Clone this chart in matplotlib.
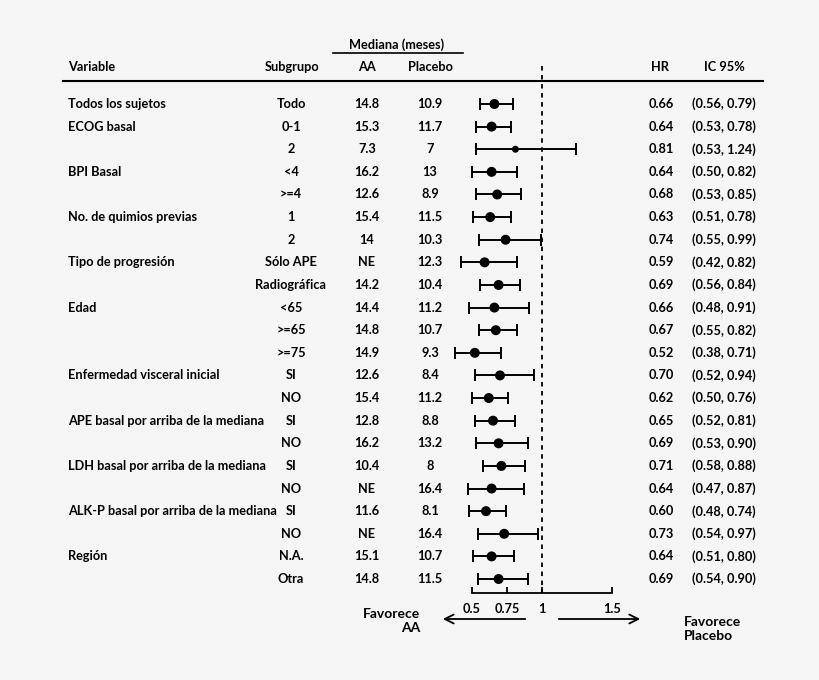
import numpy as np
import matplotlib.pyplot as plt
from matplotlib.lines import Line2D
from matplotlib.transforms import blended_transform_factory

variables = ["Todos los sujetos", "ECOG basal", "", "BPI Basal", "",
             "No. de quimios previas", "", "Tipo de progresión", "",
             "Edad", "", "", "Enfermedad visceral inicial", "",
             "APE basal por arriba de la mediana", "",
             "LDH basal por arriba de la mediana", "",
             "ALK-P basal por arriba de la mediana", "", "Región", ""]
subgroups = ["Todo", "0-1", "2", "<4", ">=4", "1", "2", "Sólo APE",
             "Radiográfica", "<65", ">=65", ">=75", "SI", "NO", "SI", "NO",
             "SI", "NO", "SI", "NO", "N.A.", "Otra"]
median_aa = ["14.8", "15.3", "7.3", "16.2", "12.6", "15.4", "14", "NE",
             "14.2", "14.4", "14.8", "14.9", "12.6", "15.4", "12.8", "16.2",
             "10.4", "NE", "11.6", "NE", "15.1", "14.8"]
median_placebo = ["10.9", "11.7", "7", "13", "8.9", "11.5", "10.3", "12.3",
                  "10.4", "11.2", "10.7", "9.3", "8.4", "11.2", "8.8", "13.2",
                  "8", "16.4", "8.1", "16.4", "10.7", "11.5"]
hr = np.array([0.66, 0.64, 0.81, 0.64, 0.68, 0.63, 0.74, 0.59, 0.69, 0.66, 0.67,
               0.52, 0.70, 0.62, 0.65, 0.69, 0.71, 0.64, 0.60, 0.73, 0.64, 0.69])
ci_low = np.array([0.56, 0.53, 0.53, 0.50, 0.53, 0.51, 0.55, 0.42, 0.56, 0.48, 0.55,
                   0.38, 0.52, 0.50, 0.52, 0.53, 0.58, 0.47, 0.48, 0.54, 0.51, 0.54])
ci_high = np.array([0.79, 0.78, 1.24, 0.82, 0.85, 0.78, 0.99, 0.82, 0.84, 0.91, 0.82,
                    0.71, 0.94, 0.76, 0.81, 0.90, 0.88, 0.87, 0.74, 0.97, 0.80, 0.90])
axis_ticks = [0.5, 0.75, 1, 1.5]

W, H = 820, 680
plt.rcParams['font.family'] = ['Lato', 'DejaVu Sans']
plt.rcParams['font.weight'] = 'bold'
plt.rcParams['font.size'] = 9.2
bg = '#f5f5f5'

fig = plt.figure(figsize=(8.2, 6.8), dpi=100, facecolor=bg)


def fx(px):
    return px / W


def fy(py):
    return 1 - py / H


# pixel layout of the forest panel
row0, step = 104, 22.62
ax = fig.add_axes([fx(430), fy(640), (660 - 430) / W, (640 - 60) / H])
ax.set_facecolor('none')
ax.set_xlim(0.5 - 42 / 140, 1.5 + 48 / 140)
ax.set_ylim((640 - row0) / step, (60 - row0) / step)

rows = np.arange(len(hr))
ax.errorbar(hr, rows, xerr=[hr - ci_low, ci_high - hr], fmt='none',
            ecolor='black', elinewidth=1.4, capsize=4.5, capthick=1.4)
sizes = np.full(len(hr), 38.0)
sizes[2] = 16
ax.scatter(hr, rows, s=sizes, color='black', zorder=3)

axis_y = (593 - row0) / step
ax.vlines(1, (66 - row0) / step, axis_y, colors='black', lw=1.3,
          linestyles=(0, (2.5, 2.5)))

for s in ['top', 'left', 'right']:
    ax.spines[s].set_visible(False)
ax.spines['bottom'].set_position(('data', axis_y))
ax.spines['bottom'].set_bounds(0.5, 1.5)
ax.spines['bottom'].set_linewidth(1.3)
ax.set_xticks(axis_ticks)
ax.set_xticklabels(['0.5', '0.75', '1', '1.5'])
ax.tick_params(axis='x', direction='in', length=4.5, width=1.3, pad=7)
ax.tick_params(axis='y', left=False, labelleft=False)

arrow_y = (619 - row0) / step
ax.annotate('', xy=(0.5 - 32 / 140, arrow_y), xytext=(0.5 + 56 / 140, arrow_y),
            arrowprops=dict(arrowstyle='->', lw=1.3, mutation_scale=16))
ax.annotate('', xy=(1.5 + 31 / 140, arrow_y), xytext=(1 + 14 / 140, arrow_y),
            arrowprops=dict(arrowstyle='->', lw=1.3, mutation_scale=16))

# table columns
tr = blended_transform_factory(fig.transFigure, ax.transData)
for i in rows:
    ax.text(fx(68), i, variables[i], transform=tr, ha='left', va='center')
    ax.text(fx(291), i, subgroups[i], transform=tr, ha='center', va='center')
    ax.text(fx(367), i, median_aa[i], transform=tr, ha='center', va='center')
    ax.text(fx(430), i, median_placebo[i], transform=tr, ha='center', va='center')
    ax.text(fx(661), i, f"{hr[i]:.2f}", transform=tr, ha='center', va='center')
    ax.text(fx(724), i, f"({ci_low[i]:.2f}, {ci_high[i]:.2f})", transform=tr,
            ha='center', va='center')

# headers
fig.text(fx(397), fy(45), "Mediana (meses)", ha='center', va='center')
fig.add_artist(Line2D([fx(333), fx(463)], [fy(53), fy(53)], lw=1.2, color='black'))
for x, label, ha in [(68, "Variable", 'left'), (292, "Subgrupo", 'center'),
                     (367, "AA", 'center'), (430, "Placebo", 'center'),
                     (660, "HR", 'center'), (724, "IC 95%", 'center')]:
    fig.text(fx(x), fy(67), label, ha=ha, va='center')
fig.add_artist(Line2D([fx(63), fx(763)], [fy(81), fy(81)], lw=1.5, color='black'))

fig.text(fx(420), fy(621), "Favorece\nAA", ha='right', va='center',
         multialignment='right', fontsize=10)
fig.text(fx(684), fy(629), "Favorece\nPlacebo", ha='left', va='center',
         fontsize=10)

fig.savefig('out.png', dpi=100, facecolor=bg)
